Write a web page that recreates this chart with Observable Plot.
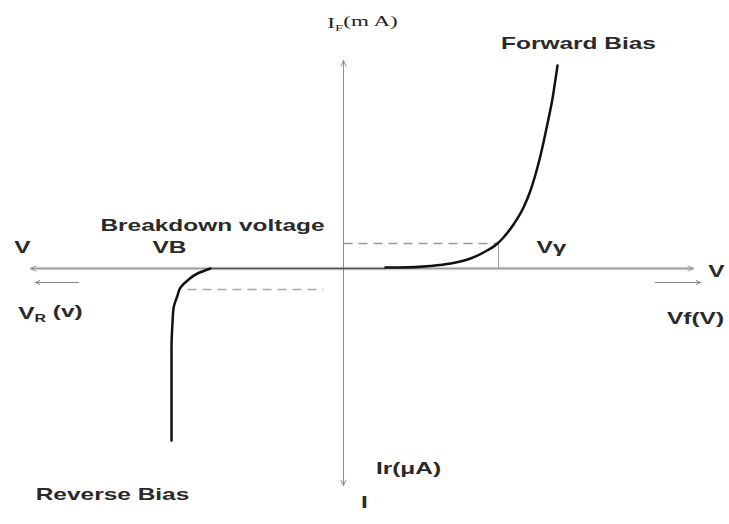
<!DOCTYPE html>
<html><head><meta charset="utf-8">
<script src="https://cdn.jsdelivr.net/npm/d3@7"></script>
<script src="https://cdn.jsdelivr.net/npm/@observablehq/plot@0.6"></script>
<style>body{margin:0;background:#fff}</style>
</head><body><div id="chart"></div>
<script>
// Forward-bias branch (arbitrary units; origin at axes crossing)
const forwardV = [42, 57, 87, 107, 127, 140, 154, 160, 170, 180, 187, 192, 197, 204, 209, 214];
const forwardI = [1, 1, 2.5, 5, 10, 16, 25, 31, 44, 61, 78, 94, 113, 145, 170, 203];
// Reverse-bias branch
const reverseV = [-133, -146, -156, -163, -166, -170, -171, -172, -172];
const reverseI = [0, -5, -12, -19, -27, -40, -54, -80, -172];
// Leakage along the axis
const leakV = [-133, 0, 42];
const leakI = [0, 0, 0];
// Axis extents
const axisXEnds = [-313, 350];
const axisYEnds = [208, -217];
// Short direction arrows
const dirFrom = [-265, 312];
const dirTo = [-308, 357];
const dirI = [-14, -14];
// Knee (Vγ) and breakdown (VB) reference points
const kneeV = 155, kneeI = 25;
const breakV = -156, breakI = -21;
// Labels
const sansText = ["Forward Bias", "Breakdown voltage", "V", "VB", "Vγ", "V", "V{R} (v)", "Vf(V)", "Reverse Bias", "Ir(μA)", "I"];
const sansX = [235, -131, -321, -174, 208, 373, -293, 352, -231, 65, 21];
const sansY = [225, 43, 21, 21, 21, -3, -45, -50, -226, -200, -234];
const serifText = ["I{F}(m A)"];
const serifX = [19];
const serifY = [245];

const fwd = forwardV.map((v, i) => ({v, i: forwardI[i]}));
const rev = reverseV.map((v, i) => ({v, i: reverseI[i]}));
const leak = leakV.map((v, i) => ({v, i: leakI[i]}));
const sans = sansText.map((t, k) => ({t, x: sansX[k], y: sansY[k]}));
const serif = serifText.map((t, k) => ({t, x: serifX[k], y: serifY[k]}));
const hAxis = axisXEnds.map(x => ({x1: 0, x2: x, y1: 0, y2: 0}));
const vAxis = axisYEnds.map(y => ({x1: 0, x2: 0, y1: 0, y2: y}));
const dirs = dirFrom.map((x, k) => ({x1: x, x2: dirTo[k], y1: dirI[k], y2: dirI[k]}));

const chart = Plot.plot({
  width: 729, height: 524,
  margin: 0,
  x: {domain: [-343, 386], axis: null},
  y: {domain: [-256, 268], axis: null},
  marks: [
    Plot.link(hAxis, {x1: "x1", y1: "y1", x2: "x2", y2: "y2", stroke: "#cfcfcf", strokeWidth: 3.5}),
    Plot.arrow(hAxis, {x1: "x1", y1: "y1", x2: "x2", y2: "y2", stroke: "#9a9a9a", strokeWidth: 1, headLength: 9, headAngle: 50}),
    Plot.arrow(vAxis, {x1: "x1", y1: "y1", x2: "x2", y2: "y2", stroke: "#909090", strokeWidth: 1, headLength: 9, headAngle: 50}),
    Plot.arrow(dirs, {x1: "x1", y1: "y1", x2: "x2", y2: "y2", stroke: "#8a8a8a", strokeWidth: 1, headLength: 7, headAngle: 50}),
    Plot.link([{x1: 0, x2: kneeV, y: kneeI}], {x1: "x1", x2: "x2", y1: "y", y2: "y", stroke: "#9a9a9a", strokeWidth: 1.3, strokeDasharray: "9,6"}),
    Plot.link([{x: kneeV, y1: kneeI, y2: 0}], {x1: "x", x2: "x", y1: "y1", y2: "y2", stroke: "#9a9a9a", strokeWidth: 1}),
    Plot.link([{x1: breakV, x2: -20, y: breakI}], {x1: "x1", x2: "x2", y1: "y", y2: "y", stroke: "#a8a8a8", strokeWidth: 1.3, strokeDasharray: "9,6"}),
    Plot.line(leak, {x: "v", y: "i", stroke: "#555", strokeWidth: 1.5}),
    Plot.line(fwd, {x: "v", y: "i", stroke: "#111", strokeWidth: 2.5, curve: "monotone-x"}),
    Plot.line(rev, {x: "v", y: "i", stroke: "#111", strokeWidth: 2.5, curve: "monotone-y"}),
    Plot.text(sans, {x: "x", y: "y", text: "t", fontFamily: "Liberation Sans, Arial, sans-serif", fontSize: 16, fontWeight: "bold", fill: "#2a2a2a"}),
    Plot.text(serif, {x: "x", y: "y", text: "t", fontFamily: "Liberation Serif, Times New Roman, serif", fontSize: 14, fill: "#1e1e1e"})
  ]
});

// Stretch label glyphs horizontally like the reference, and render {x} as subscripts
chart.querySelectorAll("text").forEach(t => {
  const txt = t.textContent;
  if (txt.includes("{")) {
    t.textContent = "";
    const parts = txt.split(/(\{[^}]*\})/).filter(s => s.length);
    const ns = "http://www.w3.org/2000/svg";
    let shifted = false;
    parts.forEach(p => {
      const ts = document.createElementNS(ns, "tspan");
      if (p.startsWith("{")) {
        ts.textContent = p.slice(1, -1);
        ts.setAttribute("font-size", "0.65em");
        ts.setAttribute("dy", "0.35em");
        shifted = true;
      } else {
        ts.textContent = p;
        if (shifted) { ts.setAttribute("dy", "-0.35em"); shifted = false; }
      }
      t.appendChild(ts);
    });
  }
  const s = t.closest("g[font-weight]") ? 1.53 : 1.65;
  const tr = t.getAttribute("transform");
  if (tr) {
    t.setAttribute("transform", tr + ` scale(${s},1)`);
  } else {
    const x = +t.getAttribute("x") || 0, y = +t.getAttribute("y") || 0;
    t.removeAttribute("x"); t.removeAttribute("y");
    t.setAttribute("transform", `translate(${x},${y}) scale(${s},1)`);
  }
});
document.getElementById("chart").appendChild(chart);
</script>
</body></html>
